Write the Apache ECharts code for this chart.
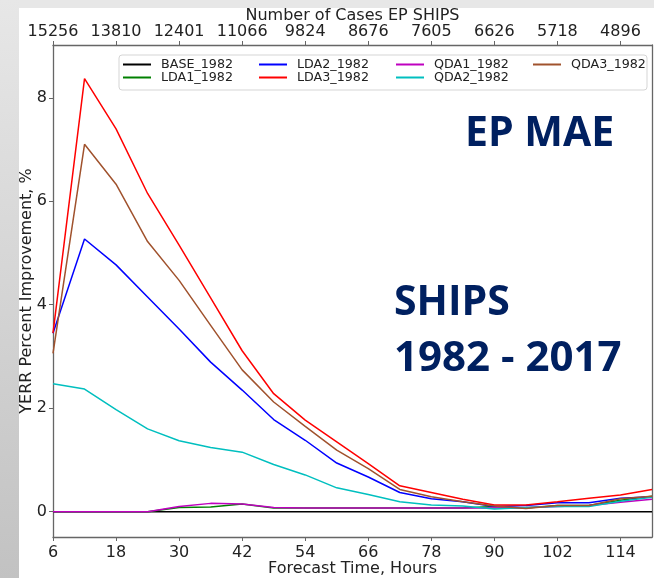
<!DOCTYPE html>
<html><head><meta charset="utf-8">
<script src="https://cdn.jsdelivr.net/npm/echarts@6/dist/echarts.min.js"></script>
<style>html,body{margin:0;padding:0;background:#fff}#c{width:654px;height:578px}</style>
</head><body><div id="c"></div><script>
const hours = [6,12,18,24,30,36,42,48,54,60,66,72,78,84,90,96,102,108,114,120];
const tickHours = [6,18,30,42,54,66,78,90,102,114];
const caseCounts = ['15256','13810','12401','11066','9824','8676','7605','6626','5718','4896'];
const yTicks = [0,2,4,6,8];

const BASE_1982 = [0,0,0,0,0,0,0,0,0,0,0,0,0,0,0,0,0,0,0,0];
const LDA1_1982 = [0,0,0,0,0.08,0.09,0.15,0.07,0.07,0.07,0.07,0.07,0.07,0.07,0.10,0.07,0.12,0.12,0.22,0.30];
const LDA2_1982 = [3.45,5.27,4.77,4.15,3.53,2.89,2.35,1.78,1.38,0.94,0.67,0.37,0.25,0.19,0.10,0.12,0.17,0.17,0.26,0.29];
const LDA3_1982 = [3.45,8.37,7.40,6.15,5.15,4.13,3.11,2.28,1.77,1.35,0.93,0.50,0.37,0.24,0.13,0.13,0.19,0.26,0.32,0.43];
const QDA1_1982 = [0,0,0,0,0.10,0.16,0.15,0.08,0.07,0.07,0.07,0.07,0.07,0.07,0.07,0.08,0.10,0.12,0.18,0.24];
const QDA2_1982 = [2.47,2.37,1.97,1.60,1.37,1.24,1.15,0.91,0.71,0.46,0.33,0.19,0.13,0.11,0.05,0.08,0.10,0.10,0.20,0.28];
const QDA3_1982 = [3.06,7.10,6.33,5.22,4.47,3.60,2.74,2.12,1.65,1.19,0.83,0.43,0.29,0.19,0.11,0.06,0.12,0.12,0.25,0.30];

const seriesDefs = [
  ['BASE_1982', BASE_1982, '#000000'],
  ['LDA1_1982', LDA1_1982, '#008000'],
  ['LDA2_1982', LDA2_1982, '#0000ff'],
  ['LDA3_1982', LDA3_1982, '#ff0000'],
  ['QDA1_1982', QDA1_1982, '#bf00bf'],
  ['QDA2_1982', QDA2_1982, '#00bfbf'],
  ['QDA3_1982', QDA3_1982, '#a0522d']
];
const legendCols = [['BASE_1982','LDA1_1982'],['LDA2_1982','LDA3_1982'],['QDA1_1982','QDA2_1982'],['QDA3_1982']];
const legendLefts = [123, 259, 396, 533];

const chart = echarts.init(document.getElementById('c'), null, {renderer:'canvas'});
const font = 'DejaVu Sans';
const axisCol = '#666';
const txtCol = '#222';

const legends = legendCols.map((col, i) => ({
  data: col, orient: 'vertical', left: legendLefts[i], top: 58, padding: 0,
  itemGap: 0, itemWidth: 28, itemHeight: 2, icon: 'rect',
  textStyle: {fontFamily: font, fontSize: 12.7, color: txtCol, lineHeight: 13, padding: [0,0,0,5]}
}));

chart.setOption({
  animation: false,
  backgroundColor: '#ffffff',
  grid: {left: 53, top: 45, right: 2, bottom: 41, containLabel: false, outerBoundsMode: 'none'},
  legend: legends,
  xAxis: [{
    type: 'value', position: 'bottom', min: 6, max: 120,
    name: 'Forecast Time, Hours', nameLocation: 'middle', nameGap: 24, nameMoveOverlap: false,
    nameTextStyle: {fontFamily: font, fontSize: 16, color: txtCol},
    axisLine: {show: true, onZero: false, lineStyle: {color: axisCol, width: 1.3}},
    axisTick: {show: true, inside: false, length: 4, customValues: tickHours, lineStyle: {color: axisCol}},
    axisLabel: {customValues: tickHours, fontFamily: font, fontSize: 16, color: txtCol, margin: 8},
    splitLine: {show: false}
  }, {
    type: 'value', position: 'top', min: 6, max: 120,
    name: 'Number of Cases EP SHIPS', nameLocation: 'middle', nameGap: 21, nameMoveOverlap: false,
    nameTextStyle: {fontFamily: font, fontSize: 16, color: txtCol},
    axisLine: {show: true, onZero: false, lineStyle: {color: axisCol, width: 1.3}},
    axisTick: {show: true, length: 4, customValues: tickHours, lineStyle: {color: axisCol}},
    axisLabel: {customValues: tickHours, fontFamily: font, fontSize: 16, color: txtCol, margin: 5,
      formatter: v => caseCounts[tickHours.indexOf(v)] || ''},
    splitLine: {show: false}
  }],
  yAxis: [{
    type: 'value', min: -0.49, max: 9.02, position: 'left',
    name: 'YERR Percent Improvement, %', nameLocation: 'middle', nameGap: 18, nameMoveOverlap: false,
    nameTextStyle: {fontFamily: font, fontSize: 16, color: txtCol},
    axisLine: {show: true, onZero: false, lineStyle: {color: axisCol, width: 1.3}},
    axisTick: {show: true, length: 4, customValues: yTicks, lineStyle: {color: axisCol}},
    axisLabel: {customValues: yTicks, fontFamily: font, fontSize: 16, color: txtCol, margin: 6},
    splitLine: {show: false}
  }, {
    type: 'value', min: -0.49, max: 9.02, position: 'right',
    axisLine: {show: true, onZero: false, lineStyle: {color: axisCol, width: 1.3}},
    axisTick: {show: false}, axisLabel: {show: false}, splitLine: {show: false}
  }],
  graphic: [
    {type: 'rect', shape: {x: 0, y: 0, width: 654, height: 8}, style: {fill: '#e7e7e7'}, silent: true},
    {type: 'rect', shape: {x: 0, y: 0, width: 19, height: 578}, silent: true,
     style: {fill: new echarts.graphic.LinearGradient(0, 0, 0, 1, [{offset: 0, color: '#e7e7e7'}, {offset: 1, color: '#c2c2c2'}])}},
    {type: 'rect', shape: {x: 119, y: 55, width: 528, height: 35, r: 3}, z: -1,
     style: {fill: 'rgba(255,255,255,0.8)', stroke: '#d5d5d5', lineWidth: 1}, silent: true},
    {type: 'text', x: 465, y: 134, style: {text: 'EP MAE', font: 'bold 41px "Open Sans"', fill: '#002060', textVerticalAlign: 'middle'}},
    {type: 'text', x: 394, y: 303, style: {text: 'SHIPS', font: 'bold 41px "Open Sans"', fill: '#002060', textVerticalAlign: 'middle'}},
    {type: 'text', x: 394, y: 359, style: {text: '1982 - 2017', font: 'bold 42px "Open Sans"', fill: '#002060', textVerticalAlign: 'middle'}}
  ],
  series: seriesDefs.map(([name, vals, color]) => ({
    name, type: 'line', xAxisIndex: 0, yAxisIndex: 0,
    data: hours.map((h, i) => [h, vals[i]]),
    showSymbol: false, symbol: 'none', color,
    lineStyle: {color, width: 1.5}
  }))
});
</script></body></html>
